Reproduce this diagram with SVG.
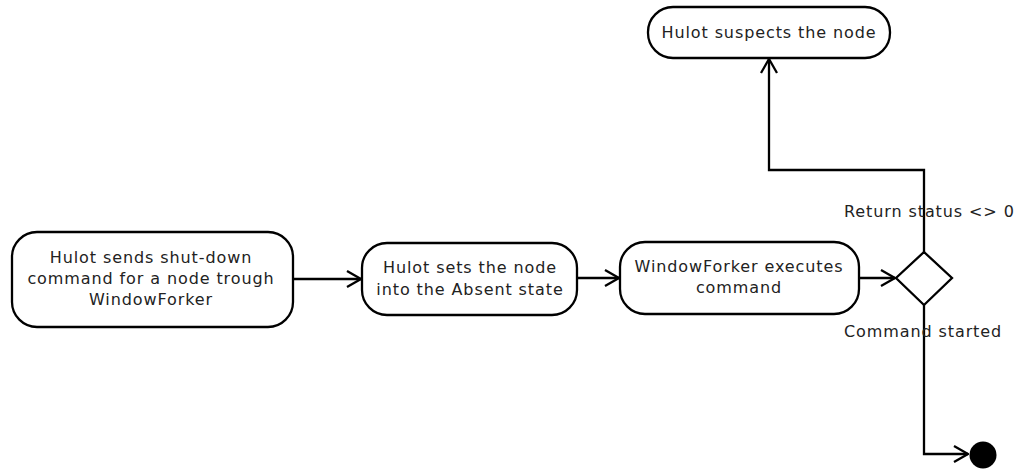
<svg xmlns="http://www.w3.org/2000/svg" width="1019" height="473" viewBox="0 0 1019 473">
<defs>
<style>
.node{fill:#fff;stroke:#000;stroke-width:2.3}
.t{font-family:"DejaVu Sans",sans-serif;font-size:16px;letter-spacing:0.9px;fill:#222;text-anchor:middle}
.l{font-family:"DejaVu Sans",sans-serif;font-size:16px;letter-spacing:0.9px;fill:#222}
.c{fill:none;stroke:#000;stroke-width:2.3}
</style>
<marker id="arr" viewBox="0 0 16 20" refX="15" refY="10" markerWidth="16" markerHeight="20" markerUnits="userSpaceOnUse" orient="auto">
<path d="M1,2 L15,10 L1,18" fill="none" stroke="#000" stroke-width="2.3"/>
</marker>
</defs>
<rect width="1019" height="473" fill="#fff"/>
<g id="connectors">
<path class="c" d="M293,279 H361" marker-end="url(#arr)"/>
<path class="c" d="M577,278 H619" marker-end="url(#arr)"/>
<path class="c" d="M859,278 H895" marker-end="url(#arr)"/>
<path class="c" d="M924,252 V170 H769 V59" marker-end="url(#arr)"/>
<path class="c" d="M924,305 V454 H968" marker-end="url(#arr)"/>
<text class="l" x="844" y="217">Return status &lt;&gt; 0</text>
<text class="l" x="844" y="337">Command started</text>
</g>
<g id="n1">
<rect class="node" x="12" y="232" width="281" height="95" rx="25" ry="25"/>
<text class="t" x="151" y="263">Hulot sends shut-down</text>
<text class="t" x="151" y="284">command for a node trough</text>
<text class="t" x="151" y="305">WindowForker</text>
</g>
<g id="n2">
<rect class="node" x="362" y="243" width="215" height="72" rx="25" ry="25"/>
<text class="t" x="470" y="273">Hulot sets the node</text>
<text class="t" x="470" y="295">into the Absent state</text>
</g>
<g id="n3">
<rect class="node" x="620" y="242" width="239" height="72" rx="25" ry="25"/>
<text class="t" x="739" y="272">WindowForker executes</text>
<text class="t" x="739" y="293">command</text>
</g>
<g id="n4">
<rect class="node" x="648" y="7" width="242" height="51" rx="25" ry="25"/>
<text class="t" x="769" y="38">Hulot suspects the node</text>
</g>
<g id="decision">
<polygon class="node" points="924,252 952,278 924,305 896,278"/>
</g>
<g id="end">
<circle cx="983" cy="455" r="13.5" fill="#000"/>
</g>
</svg>
